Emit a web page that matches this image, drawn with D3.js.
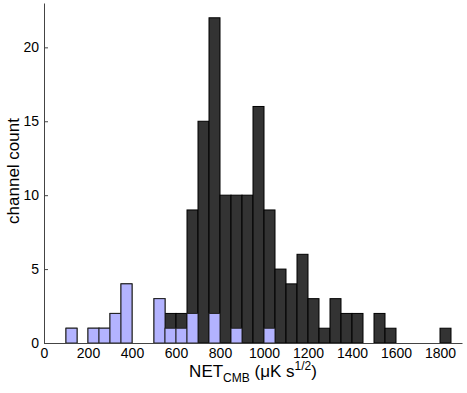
<!DOCTYPE html>
<meta charset="utf-8">
<html>
<head>
<script src="https://cdn.jsdelivr.net/npm/d3@7"></script>
<style>
body { margin:0; background:white; }
svg text { font-family:"Liberation Sans", Arial, sans-serif; fill:black; }
.axis path, .axis line { stroke:#444; }
.axis text { font-size:14px; }
</style>
</head>
<body>
<script>

// bin left edges (uK s^1/2), 50 wide
var binStarts = [100, 200, 250, 300, 350, 500, 550, 600, 650, 700, 750, 800, 850, 900, 950,
                 1000, 1050, 1100, 1150, 1200, 1250, 1300, 1350, 1400, 1500, 1550, 1800];
// all channels
var totalCounts = [1, 1, 1, 2, 4, 3, 2, 2, 9, 15, 22, 10, 10, 10, 16,
                   9, 5, 4, 6, 3, 1, 3, 2, 2, 2, 1, 1];
// highlighted subset
var subsetCounts = [1, 1, 1, 2, 4, 3, 1, 1, 2, 0, 2, 0, 1, 0, 0,
                    1, 0, 0, 0, 0, 0, 0, 0, 0, 0, 0, 0];
var binWidth = 50;
var yTicks = [0, 5, 10, 15, 20];
var xTicks = [0, 200, 400, 600, 800, 1000, 1200, 1400, 1600, 1800];

var W = 467, H = 393;
var svg = d3.select("body").append("svg")
    .attr("width", W)
    .attr("height", H);

var x = d3.scaleLinear().domain([0, 1900]).range([44, 462]);
var y = d3.scaleLinear().domain([0, 23]).range([343, 3]);

var data = binStarts.map((b, i) => ({x0:b, total:totalCounts[i], sub:subsetCounts[i]}));

//Total bars
svg.selectAll("rect.total")
    .data(data)
    .enter().append("rect")
    .attr("class", "total")
    .attr("x", d => x(d.x0))
    .attr("width", d => x(d.x0 + binWidth) - x(d.x0))
    .attr("y", d => y(d.total))
    .attr("height", d => y(0) - y(d.total))
    .attr("fill", "#333333")
    .attr("stroke", "#000")
    .attr("stroke-width", 1);

//Subset bars on top
svg.selectAll("rect.sub")
    .data(data.filter(d => d.sub > 0))
    .enter().append("rect")
    .attr("class", "sub")
    .attr("x", d => x(d.x0))
    .attr("width", d => x(d.x0 + binWidth) - x(d.x0))
    .attr("y", d => y(d.sub))
    .attr("height", d => y(0) - y(d.sub))
    .attr("fill", "#b3b3ff")
    .attr("stroke", "#222")
    .attr("stroke-width", 1);

//Y axis
svg.append("g")
    .attr("class", "axis")
    .attr("transform", "translate(44,0)")
    .call(d3.axisLeft(y).tickValues(yTicks).tickFormat(d3.format("d"))
        .tickSize(-4).tickSizeOuter(0).tickPadding(5));

//X axis
svg.append("g")
    .attr("class", "axis")
    .attr("transform", "translate(0,343)")
    .call(d3.axisBottom(x).tickValues(xTicks).tickFormat(d3.format("d"))
        .tickSize(0).tickSizeOuter(0).tickPadding(5));

//Labels
svg.append("text")
    .attr("transform", "translate(19,171) rotate(-90)")
    .attr("text-anchor", "middle")
    .style("font-size", "17px")
    .text("channel count");

var xl = svg.append("text")
    .attr("x", 253)
    .attr("y", 377)
    .attr("text-anchor", "middle")
    .style("font-size", "17px");
xl.append("tspan").text("NET");
xl.append("tspan").attr("dy", 5).style("font-size", "12px").text("CMB");
xl.append("tspan").attr("dy", -5).text(" (\u03BCK s");
xl.append("tspan").attr("dy", -7).style("font-size", "12px").text("1/2");
xl.append("tspan").attr("dy", 7).text(")");

</script>
</body>
</html>
